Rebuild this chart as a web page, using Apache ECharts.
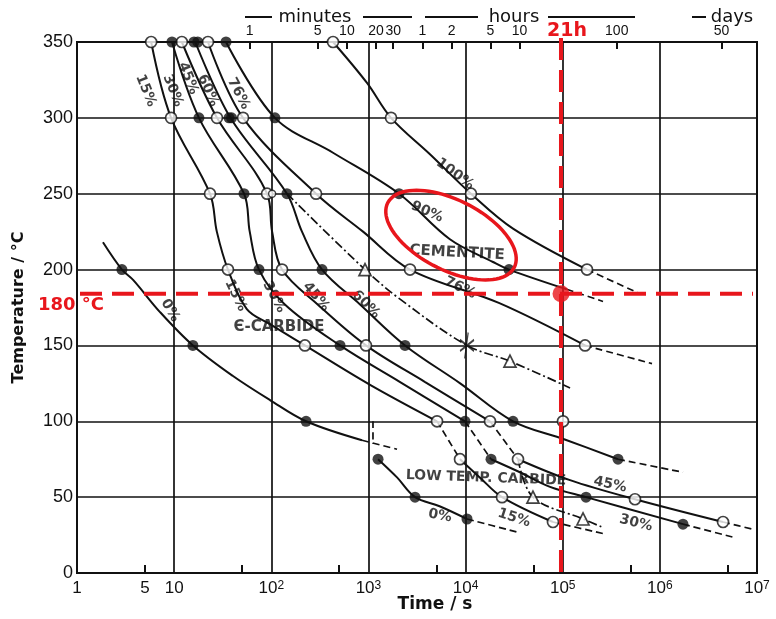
<!DOCTYPE html>
<html><head><meta charset="utf-8">
<script src="https://cdn.jsdelivr.net/npm/echarts@6/dist/echarts.min.js"></script>
<style>html,body{margin:0;padding:0;background:#fff}#c{width:776px;height:619px}</style>
</head><body><div id="c"></div>
<script>
// ---------- axis tick values ----------
const xLabelVals = [1, 5, 10, 100, 1000, 10000, 100000, 1000000, 10000000];
const xMinorTicks = [5, 50, 500, 5000, 50000, 500000, 5000000];
const topTickVals = [60, 300, 600, 1200, 1800, 3600, 7200, 18000, 36000, 360000, 4320000];
const topTickLabels = ['1', '5', '10', '20', '30', '1', '2', '5', '10', '100', '50'];

// ---------- curves [time s, temperature C] ----------
const eps0 = [[1.85,218],[2.9,200],[3.8,193],[7.15,172],[15.6,150],[40,130],[97,114],[228,100],[859,87.5]];
const pct15 = [[5.8,350],[9.3,300],[23.4,250],[27.5,225],[35.8,200],[56,174],[97,164],[222,150],[1040,124],[5085,100]];
const pct30 = [[9.5,350],[18,300],[52.4,250],[60,225],[74.7,200],[138,177],[510,150],[2100,126],[9870,100]];
const pct45 = [[12,350],[27.6,300],[90.4,250],[102,225],[129,200],[300,177],[944,150],[3800,126],[17850,100]];
const pct60 = [[16.5,350],[38,300],[145,250],[207,225],[333,200],[820,177],[2382,150],[8800,125],[30780,100],[105000,88],[371000,75]];
const pct76 = [[22.3,350],[51.2,300],[289,250],[880,225],[2680,200],[22000,178],[169800,150]];
const pct90 = [[34.2,350],[109,300],[432,277],[2065,250],[6900,220],[19170,205],[28000,200],[110000,187]];
const pct100 = [[432,350],[967,323],[1708,300],[4300,276],[11370,250],[30800,227],[177900,200]];
const low0 = [[1256,75],[1970,63],[3020,50],[5400,44],[10350,35.6]];
const low15 = [[8770,75],[14000,63],[23730,50],[79400,33.6]];
const low30 = [[18280,75],[36300,66.4],[74000,56.8],[173800,50],[1730000,32.2]];
const low45 = [[34650,75],[118900,61.2],[554600,48.6],[4470000,33.6]];
const solidCurves = [eps0, pct15, pct30, pct45, pct60, pct76, pct90, pct100, low0, low15, low30, low45];

const dashedCurves = [
  [[859,87.5],[1970,81.6]],
  [[1114,100],[1114,85]],
  [[5085,100],[8770,75]],
  [[9870,100],[18280,75]],
  [[17850,100],[34650,75]],
  [[371000,75],[1730000,66.4]],
  [[10350,35.6],[33900,27]],
  [[79400,33.6],[260000,26]],
  [[1730000,32.2],[5940000,23.3]],
  [[4470000,33.6],[9100000,28.8]],
  [[169800,150],[830000,138]],
  [[110000,187],[260000,179]],
  [[177900,200],[625000,184]]
];
const dashDotCurves = [
  [[145,250],[922,200],[2115,180.5],[10350,150],[28650,139.6],[119000,122]],
  [[34650,75],[49400,50],[161800,35.6],[260000,30]]
];

// ---------- markers ----------
const openPts = [[5.8,350],[12,350],[22.3,350],[432,350],[9.3,300],[27.6,300],[51.2,300],[1708,300],
  [23.4,250],[90.4,250],[289,250],[11370,250],[35.8,200],[129,200],[2680,200],[177900,200],
  [222,150],[944,150],[169800,150],[5085,100],[17850,100],[100700,100],[8770,75],[34650,75],
  [23730,50],[554600,48.6],[79400,33.6],[4470000,33.6]];
const smallOpenPts = [[102,250]];
const filledPts = [[9.5,350],[16,350],[17.5,350],[34.2,350],[18,300],[36.7,300],[39,300],[109,300],
  [52.4,250],[145,250],[2065,250],[2.9,200],[74.7,200],[333,200],[28000,200],[15.6,150],[510,150],[2382,150],
  [228,100],[9870,100],[30780,100],[1256,75],[18280,75],[371000,75],[3020,50],[173800,50],[10350,35.6],[1730000,32.2]];
const trianglePts = [[922,200],[28650,139.6],[49400,50],[161800,35.6]];
const starPts = [[10350,150]];

// ---------- in-plot labels [time, temp, text, rotation, size] ----------
const annotations = [
  [5.1,318,'15%',-68,14],[9.7,318,'30%',-68,14],[13.9,326,'45%',-68,14],[22.3,318,'60%',-66,14],[46,316,'76%',-62,14],
  [7790,263,'100%',-36,14],[4010,238,'90%',-24,14],[8170,211,'CEMENTITE',-3,15],[8770,188,'76%',-26,14],
  [43,183,'15%',-64,14],[107,182,'30%',-62,14],[289,182,'45%',-50,14],[944,177,'60%',-45,14],
  [9.1,173,'0%',-60,14],[120,162,'Є-CARBIDE',0,15],[16230,62.5,'LOW TEMP. CARBIDE',-2,14],
  [5460,37.7,'0%',-10,14],[31600,36.3,'15%',-18,14],[307000,58.2,'45%',-12,14],[568000,32.9,'30%',-14,14]
];

// ---------- red annotation ----------
const markTime = 96000;   // "21h" line as drawn
const markTemp = 184;     // "180 °C" line as drawn
const ellipseCenter = [7080, 222.7];

const BLACK = '#111';
const RED = '#e8161c';
const FONT = 'DejaVu Sans';
const AXFONT = 'Liberation Sans';
const sup = {2:'2',3:'3',4:'4',5:'5',6:'6',7:'7'};

const chart = echarts.init(document.getElementById('c'));
const series = [];
solidCurves.forEach(d => series.push({type:'line', data:d, smooth:0.35, symbol:'none', silent:true,
  lineStyle:{color:BLACK, width:2}, z:2, animation:false}));
dashedCurves.forEach(d => series.push({type:'line', data:d, smooth:0.3, symbol:'none', silent:true,
  lineStyle:{color:BLACK, width:1.7, type:[7,4]}, z:2, animation:false}));
dashDotCurves.forEach(d => series.push({type:'line', data:d, smooth:0.35, symbol:'none', silent:true,
  lineStyle:{color:BLACK, width:1.7, type:[9,3,2,3]}, z:2, animation:false}));
series.push({type:'scatter', data:openPts, symbol:'circle', symbolSize:11, clip:false, z:3, animation:false,
  itemStyle:{color:'#fff', borderColor:BLACK, borderWidth:1.7}});
series.push({type:'scatter', data:smallOpenPts, symbol:'circle', symbolSize:7, clip:false, z:3, animation:false,
  itemStyle:{color:'#fff', borderColor:BLACK, borderWidth:1.4}});
series.push({type:'scatter', data:filledPts, symbol:'circle', symbolSize:11, clip:false, z:3, animation:false,
  itemStyle:{color:BLACK}});
series.push({type:'scatter', data:trianglePts, symbol:'triangle', symbolSize:12, clip:false, z:3, animation:false,
  itemStyle:{color:'#fff', borderColor:BLACK, borderWidth:1.7}});
series.push({type:'scatter', data:starPts, symbol:'path://M-6,-6L6,6M-6,6L6,-6M1,-14L-2,14', symbolSize:[14,26], clip:false, z:3, animation:false,
  itemStyle:{color:'none', borderColor:BLACK, borderWidth:1.7}});
series.push({type:'scatter', symbolSize:1, clip:false, z:4, animation:false, silent:true,
  itemStyle:{color:'rgba(0,0,0,0)'},
  data: annotations.map(a => ({value:[a[0],a[1]], label:{show:true, position:'inside', formatter:a[2], rotate:a[3],
    fontSize:a[4], fontFamily:FONT, fontWeight:'bold', color:BLACK}}))});
series.push({type:'scatter', data:[[markTime, markTemp]], symbolSize:17, clip:false, z:10, animation:false,
  itemStyle:{color:RED}});

const option = {
  animation:false,
  backgroundColor:'#fff',
  grid:{left:77, right:19, top:42, bottom:46, show:true, borderColor:BLACK, borderWidth:2},
  xAxis:[
    {type:'log', logBase:10, min:1, max:1e7, position:'bottom',
      axisLine:{show:true, onZero:false, lineStyle:{color:BLACK, width:2}},
      axisTick:{show:false},
      splitLine:{show:true, lineStyle:{color:BLACK, width:1.7}},
      axisLabel:{customValues:xLabelVals, color:BLACK, fontFamily:AXFONT, fontSize:17, margin:7,
        formatter:v => { const e = Math.round(Math.log10(v)); return (v <= 10) ? String(Math.round(v)) : '{b|10}{s|' + sup[e] + '}'; },
        rich:{b:{fontSize:17, fontFamily:AXFONT, color:BLACK}, s:{fontSize:12, fontFamily:AXFONT, color:BLACK, verticalAlign:'top', lineHeight:12}}}
    },
    {type:'log', logBase:10, min:1, max:1e7, position:'top',
      axisLine:{show:true, onZero:false, lineStyle:{color:BLACK, width:2}},
      axisTick:{show:true, inside:true, length:7, customValues:topTickVals, lineStyle:{color:BLACK, width:2}},
      splitLine:{show:false},
      axisLabel:{customValues:topTickVals, color:BLACK, fontFamily:AXFONT, fontSize:14, margin:4,
        formatter:v => { let i = 0, best = 1e9; topTickVals.forEach((t,k)=>{const d=Math.abs(Math.log10(t)-Math.log10(v)); if(d<best){best=d;i=k;}}); return topTickLabels[i]; }}
    },
    {type:'log', logBase:10, min:1, max:1e7, position:'bottom',
      axisLine:{show:false, onZero:false},
      axisTick:{show:true, inside:true, length:8, customValues:xMinorTicks, lineStyle:{color:BLACK, width:2}},
      splitLine:{show:false}, axisLabel:{show:false}
    }
  ],
  yAxis:[{type:'value', min:0, max:350, interval:50,
    name:'Temperature / °C', nameLocation:'middle', nameGap:50, nameRotate:90,
    nameTextStyle:{fontFamily:FONT, fontWeight:'bold', fontSize:16, color:BLACK},
    axisLine:{show:true, onZero:false, lineStyle:{color:BLACK, width:2}},
    axisTick:{show:false},
    splitLine:{show:true, lineStyle:{color:BLACK, width:1.7}},
    axisLabel:{color:BLACK, fontFamily:AXFONT, fontSize:18, margin:4}
  }],
  series:series
};
chart.setOption(option);

// ---------- overlay graphics ----------
const P = (x,y) => chart.convertToPixel({xAxisIndex:0, yAxisIndex:0}, [x,y]);
const pTopLeft = P(1,350), pBotRight = P(1e7,0);
const pMark = P(markTime, markTemp);
const c = P(ellipseCenter[0], ellipseCenter[1]);
const a = 71, b = 35, th = 27 * Math.PI / 180;
const ell = [];
for (let k = 0; k < 90; k++) {
  const f = k / 90 * 2 * Math.PI;
  ell.push([c[0] + a*Math.cos(f)*Math.cos(th) - b*Math.sin(f)*Math.sin(th),
            c[1] + a*Math.cos(f)*Math.sin(th) + b*Math.sin(f)*Math.cos(th)]);
}
const hdr = {fontFamily:FONT, fontSize:18, fill:BLACK};
chart.setOption({graphic:[
  {type:'line', z:100, shape:{x1:pTopLeft[0]+3, y1:pMark[1], x2:pBotRight[0]-4, y2:pMark[1]},
    style:{stroke:RED, lineWidth:4, lineDash:[22,10]}},
  {type:'line', z:100, shape:{x1:pMark[0], y1:pTopLeft[1]-4, x2:pMark[0], y2:pBotRight[1]+2},
    style:{stroke:RED, lineWidth:4, lineDash:[22,10]}},
  {type:'polygon', z:100, shape:{points:ell}, style:{fill:'none', stroke:RED, lineWidth:3.5}},
  {type:'text', z:101, x:pMark[0]+6, y:31, style:{text:'21h', fontFamily:FONT, fontWeight:'bold', fontSize:19, fill:RED, align:'center', verticalAlign:'middle'}},
  {type:'text', z:101, x:71, y:305, style:{text:'180 °C', fontFamily:FONT, fontWeight:'bold', fontSize:18, fill:RED, align:'center', verticalAlign:'middle'}},
  {type:'text', z:101, x:435, y:605, style:{text:'Time / s', fontFamily:FONT, fontWeight:'bold', fontSize:17, fill:BLACK, align:'center', verticalAlign:'middle'}},
  {type:'line', shape:{x1:245, y1:17, x2:272, y2:17}, style:{stroke:BLACK, lineWidth:2}},
  {type:'text', x:315, y:17, style:Object.assign({text:'minutes', align:'center', verticalAlign:'middle'}, hdr)},
  {type:'line', shape:{x1:363, y1:17, x2:412, y2:17}, style:{stroke:BLACK, lineWidth:2}},
  {type:'line', shape:{x1:425, y1:17, x2:478, y2:17}, style:{stroke:BLACK, lineWidth:2}},
  {type:'text', x:514, y:17, style:Object.assign({text:'hours', align:'center', verticalAlign:'middle'}, hdr)},
  {type:'line', shape:{x1:548, y1:17, x2:635, y2:17}, style:{stroke:BLACK, lineWidth:2}},
  {type:'line', shape:{x1:692, y1:17, x2:706, y2:17}, style:{stroke:BLACK, lineWidth:2}},
  {type:'text', x:732, y:17, style:Object.assign({text:'days', align:'center', verticalAlign:'middle'}, hdr)}
]});
</script></body></html>
